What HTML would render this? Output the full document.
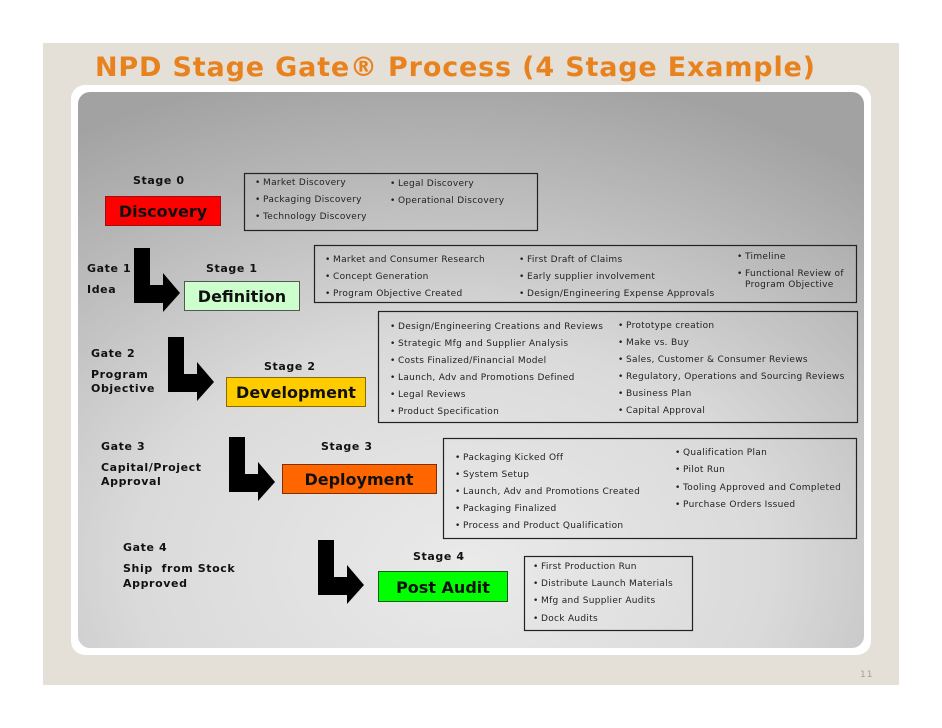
<!DOCTYPE html>
<html><head><meta charset="utf-8"><style>
html,body{margin:0;padding:0;background:#fff;}
svg{display:block;}
.t{font-family:"DejaVu Sans","Liberation Sans",sans-serif;font-size:9px;fill:#222;letter-spacing:0.3px;}
.l{font-family:"DejaVu Sans","Liberation Sans",sans-serif;font-size:11px;font-weight:bold;fill:#111;letter-spacing:0.6px;}
.s{font-family:"DejaVu Sans","Liberation Sans",sans-serif;font-size:16px;font-weight:bold;fill:#111;text-anchor:middle;}
</style></head><body>
<svg width="942" height="728" viewBox="0 0 942 728" xmlns="http://www.w3.org/2000/svg">
<defs>
<radialGradient id="g" cx="0.45" cy="0.85" r="0.9" fx="0.5" fy="0.85">
<stop offset="0" stop-color="#eaeaea"/>
<stop offset="0.45" stop-color="#dadada"/>
<stop offset="1" stop-color="#a2a2a2"/>
</radialGradient>
<symbol id="arr" overflow="visible">
<path d="M0 0 H16 V37 H29 V25 L46 45 L29 64 V55 H0 Z" fill="#000"/>
</symbol>
</defs>
<rect x="43" y="43" width="856" height="642" fill="#e5e0d7"/>
<text x="95" y="76" font-family="DejaVu Sans,Liberation Sans,sans-serif" font-weight="bold" font-size="27" fill="#e8821e" textLength="720">NPD Stage Gate® Process (4 Stage Example)</text>
<rect x="71" y="85" width="800" height="570" rx="14" fill="#fff"/>
<rect x="78" y="92" width="786" height="556" rx="12" fill="url(#g)"/>
<text x="860" y="677" font-family="DejaVu Sans,sans-serif" font-size="9" fill="#a89f94" letter-spacing="1">11</text>

<use href="#arr" x="134" y="248"/>
<use href="#arr" x="168" y="337"/>
<use href="#arr" x="229" y="437"/>
<use href="#arr" x="318" y="540"/>

<text class="l" x="133" y="184">Stage 0</text>
<text class="l" x="87" y="272">Gate 1</text>
<text class="l" x="87" y="293">Idea</text>
<text class="l" x="206" y="272">Stage 1</text>
<text class="l" x="91" y="357">Gate 2</text>
<text class="l" x="91" y="378">Program</text>
<text class="l" x="91" y="392">Objective</text>
<text class="l" x="264" y="370">Stage 2</text>
<text class="l" x="101" y="450">Gate 3</text>
<text class="l" x="101" y="471">Capital/Project</text>
<text class="l" x="101" y="485">Approval</text>
<text class="l" x="321" y="450">Stage 3</text>
<text class="l" x="123" y="551">Gate 4</text>
<text class="l" x="123" y="572" xml:space="preserve">Ship  from Stock</text>
<text class="l" x="123" y="587">Approved</text>
<text class="l" x="413" y="560">Stage 4</text>

<rect x="105.5" y="196.5" width="115" height="29" fill="#ff0000" stroke="#a01010"/>
<text class="s" x="163" y="217" fill="#3a0000">Discovery</text>
<rect x="184.5" y="281.5" width="115" height="29" fill="#ccffcc" stroke="#555"/>
<text class="s" x="242" y="302">Definition</text>
<rect x="226.5" y="377.5" width="139" height="29" fill="#ffcc00" stroke="#8a6a00"/>
<text class="s" x="296" y="398">Development</text>
<rect x="282.5" y="464.5" width="154" height="29" fill="#ff6600" stroke="#803000"/>
<text class="s" x="359" y="485">Deployment</text>
<rect x="378.5" y="571.5" width="129" height="30" fill="#00ff00" stroke="#1a5a1a"/>
<text class="s" x="443" y="593">Post Audit</text>

<g fill="none" stroke="#222" stroke-width="1.2">
<rect x="244.5" y="173.5" width="293" height="57"/>
<rect x="314.5" y="245.5" width="542" height="57"/>
<rect x="378.5" y="311.5" width="479" height="111"/>
<rect x="443.5" y="438.5" width="413" height="100"/>
<rect x="524.5" y="556.5" width="168" height="74"/>
</g>
<g class="t">
<text x="255" y="185">•</text><text x="263" y="185">Market Discovery</text>
<text x="255" y="202">•</text><text x="263" y="202">Packaging Discovery</text>
<text x="255" y="219">•</text><text x="263" y="219">Technology Discovery</text>
<text x="390" y="186">•</text><text x="398" y="186">Legal Discovery</text>
<text x="390" y="203">•</text><text x="398" y="203">Operational Discovery</text>

<text x="325" y="262">•</text><text x="333" y="262">Market and Consumer Research</text>
<text x="325" y="279">•</text><text x="333" y="279">Concept Generation</text>
<text x="325" y="296">•</text><text x="333" y="296">Program Objective Created</text>
<text x="519" y="262">•</text><text x="527" y="262">First Draft of Claims</text>
<text x="519" y="279">•</text><text x="527" y="279">Early supplier involvement</text>
<text x="519" y="296">•</text><text x="527" y="296">Design/Engineering Expense Approvals</text>
<text x="737" y="259">•</text><text x="745" y="259">Timeline</text>
<text x="737" y="276">•</text><text x="745" y="276">Functional Review of</text>
<text x="745" y="287">Program Objective</text>

<text x="390" y="329">•</text><text x="398" y="329">Design/Engineering Creations and Reviews</text>
<text x="390" y="346">•</text><text x="398" y="346">Strategic Mfg and Supplier Analysis</text>
<text x="390" y="363">•</text><text x="398" y="363">Costs Finalized/Financial Model</text>
<text x="390" y="380">•</text><text x="398" y="380">Launch, Adv and Promotions Defined</text>
<text x="390" y="397">•</text><text x="398" y="397">Legal Reviews</text>
<text x="390" y="414">•</text><text x="398" y="414">Product Specification</text>
<text x="618" y="328">•</text><text x="626" y="328">Prototype creation</text>
<text x="618" y="345">•</text><text x="626" y="345">Make vs. Buy</text>
<text x="618" y="362">•</text><text x="626" y="362">Sales, Customer &amp; Consumer Reviews</text>
<text x="618" y="379">•</text><text x="626" y="379">Regulatory, Operations and Sourcing Reviews</text>
<text x="618" y="396">•</text><text x="626" y="396">Business Plan</text>
<text x="618" y="413">•</text><text x="626" y="413">Capital Approval</text>

<text x="455" y="460">•</text><text x="463" y="460">Packaging Kicked Off</text>
<text x="455" y="477">•</text><text x="463" y="477">System Setup</text>
<text x="455" y="494">•</text><text x="463" y="494">Launch, Adv and Promotions Created</text>
<text x="455" y="511">•</text><text x="463" y="511">Packaging Finalized</text>
<text x="455" y="528">•</text><text x="463" y="528">Process and Product Qualification</text>
<text x="675" y="455">•</text><text x="683" y="455">Qualification Plan</text>
<text x="675" y="472">•</text><text x="683" y="472">Pilot Run</text>
<text x="675" y="490">•</text><text x="683" y="490">Tooling Approved and Completed</text>
<text x="675" y="507">•</text><text x="683" y="507">Purchase Orders Issued</text>

<text x="533" y="569">•</text><text x="541" y="569">First Production Run</text>
<text x="533" y="586">•</text><text x="541" y="586">Distribute Launch Materials</text>
<text x="533" y="603">•</text><text x="541" y="603">Mfg and Supplier Audits</text>
<text x="533" y="621">•</text><text x="541" y="621">Dock Audits</text>
</g>
</svg>
</body></html>
